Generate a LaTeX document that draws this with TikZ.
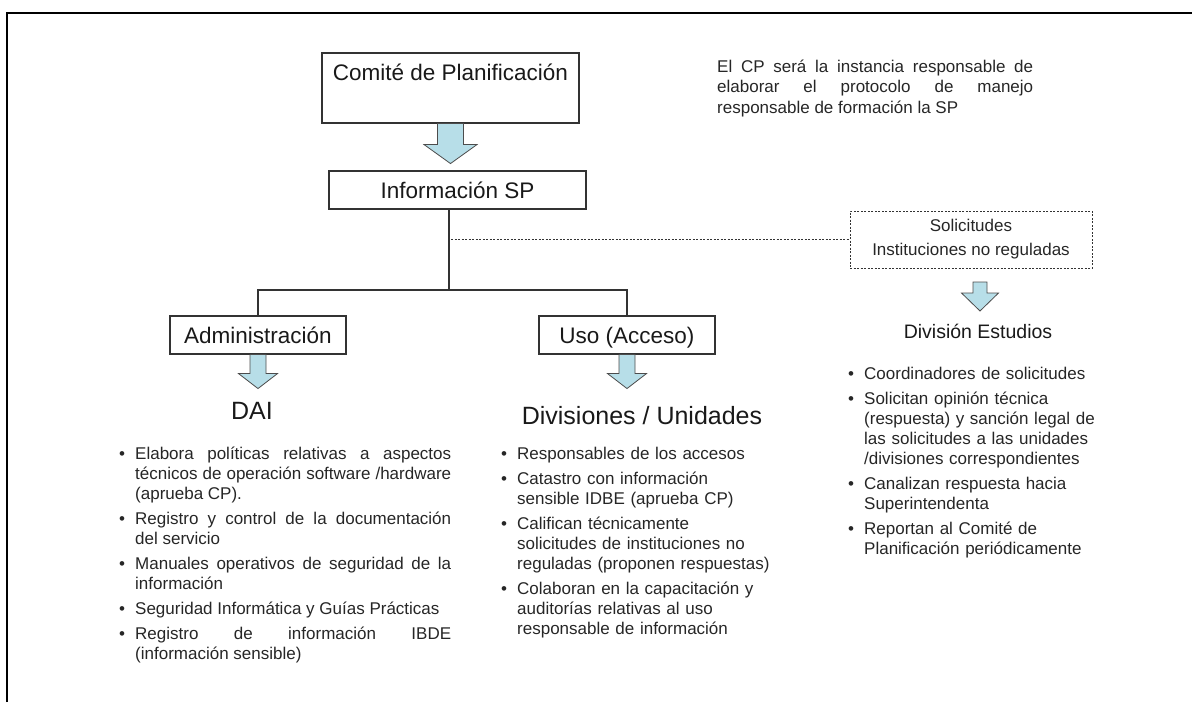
\documentclass[tikz,border=0pt]{standalone}
\usepackage{fontspec}
\setmainfont{Liberation Sans}
\usepackage{xcolor}
\usepackage{tikz}
\usetikzlibrary{arrows.meta,positioning}

\definecolor{arrowfill}{RGB}{183,222,232}
\newcommand{\itm}[1]{\par\hangindent=16pt\hangafter=1\noindent\makebox[16pt][l]{\textbullet}\strut#1\par\vspace{5pt}}

\tikzset{
  box/.style={draw=black!80, line width=1.1pt, inner sep=0pt, minimum height=38pt,
    text height=16pt, text depth=0pt, font=\fontsize{22.5}{26}\selectfont, text=black!90},
  dashbox/.style={draw=black!80, line width=0.9pt, dash pattern=on 2pt off 1.5pt,
    inner sep=0pt, align=center, font=\fontsize{17}{24}\selectfont, text=black!85},
  link/.style={draw=black!80, line width=1.1pt},
  dashlink/.style={draw=black!80, line width=0.9pt, dash pattern=on 2pt off 1.5pt},
  listtext/.style={anchor=north west, inner sep=0pt, text width=#1,
    font=\fontsize{17}{20}\selectfont, text=black!85},
  pics/downarrow/.style n args={4}{code={
    \filldraw[fill=arrowfill, draw=black!70, line width=0.8pt]
      (-#1,0) -- (-#1,#3) -- (-#2,#3) -- (0,#4) -- (#2,#3) -- (#1,#3) -- (#1,0) -- cycle;}}
}

\begin{document}
\begin{tikzpicture}[x=1pt,y=-1pt]
\useasboundingbox (0,0) rectangle (1192,702);
\draw[line width=2pt] (7,702) -- (7,13) -- (1192,13);

% boxes
\node[box, minimum width=257pt, minimum height=70pt, text depth=31pt] (comite) at (450.5,88) {Comité de Planificación};
\node[box, minimum width=257pt] (info) at (457.5,190) {Información SP};
\node[box, minimum width=176pt] (admin) at (258,335) {Administración};
\node[box, minimum width=176pt] (uso) at (627,335) {Uso (Acceso)};
\node[dashbox, minimum width=242pt, minimum height=57pt] (solic) at (971,239.5) {Solicitudes\\Instituciones no reguladas};

\node[anchor=north west, inner sep=0pt, text width=316pt, align=justify,
  font=\fontsize{17}{20.5}\selectfont, text=black!85] (nota) at (717,57.5)
  {\strut El CP será la instancia responsable de\linebreak elaborar el protocolo de manejo\linebreak responsable de formación la SP};

% connectors
\coordinate (split) at (449,290);
\coordinate (tap) at (451,239.5);
\draw[link] (info.south -| split) -- (split);
\draw[link] (split) -| (admin.north);
\draw[link] (split) -| (uso.north);
\draw[dashlink] (tap) -- (solic.west);

\pic at (comite.south) {downarrow={13}{26.5}{21}{40}};
\pic at (admin.south) {downarrow={8}{19.5}{19}{34}};
\pic at (uso.south) {downarrow={8}{19.5}{19}{34}};
\coordinate (solictip) at (980,282);
\pic at (solictip) {downarrow={7}{18.5}{11}{29}};

% headings
\node[anchor=base, inner sep=0pt, font=\fontsize{25}{30}\selectfont, text=black!90] (dai) at (252,419) {DAI};
\node[anchor=base, inner sep=0pt, font=\fontsize{25}{30}\selectfont, text=black!90] (divis) at (642,424) {Divisiones / Unidades};
\node[anchor=base, inner sep=0pt, font=\fontsize{19.5}{23}\selectfont, text=black!90] (estud) at (978,338) {División Estudios};

% lists
\node[listtext=332pt, align=justify] (dailist) at (119,439.5) {%
  \itm{Elabora políticas relativas a aspectos\linebreak técnicos de operación software /hardware\linebreak (aprueba CP).}
  \itm{Registro y control de la documentación\linebreak del servicio}
  \itm{Manuales operativos de seguridad de la\linebreak información}
  \itm{Seguridad Informática y Guías Prácticas}
  \itm{Registro de información IBDE\linebreak (información sensible)}};

\node[listtext=290pt, align=left] (divlist) at (501,439.5) {%
  \itm{Responsables de los accesos}
  \itm{Catastro con información\newline sensible IDBE (aprueba CP)}
  \itm{Califican técnicamente\newline solicitudes de instituciones no\newline reguladas (proponen respuestas)}
  \itm{Colaboran en la capacitación y\newline auditorías relativas al uso\newline responsable de información}};

\node[listtext=280pt, align=left] (estlist) at (848,359.5) {%
  \itm{Coordinadores de solicitudes}
  \itm{Solicitan opinión técnica\newline (respuesta) y sanción legal de\newline las solicitudes a las unidades\newline /divisiones correspondientes}
  \itm{Canalizan respuesta hacia\newline Superintendenta}
  \itm{Reportan al Comité de\newline Planificación periódicamente}};
\end{tikzpicture}
\end{document}
